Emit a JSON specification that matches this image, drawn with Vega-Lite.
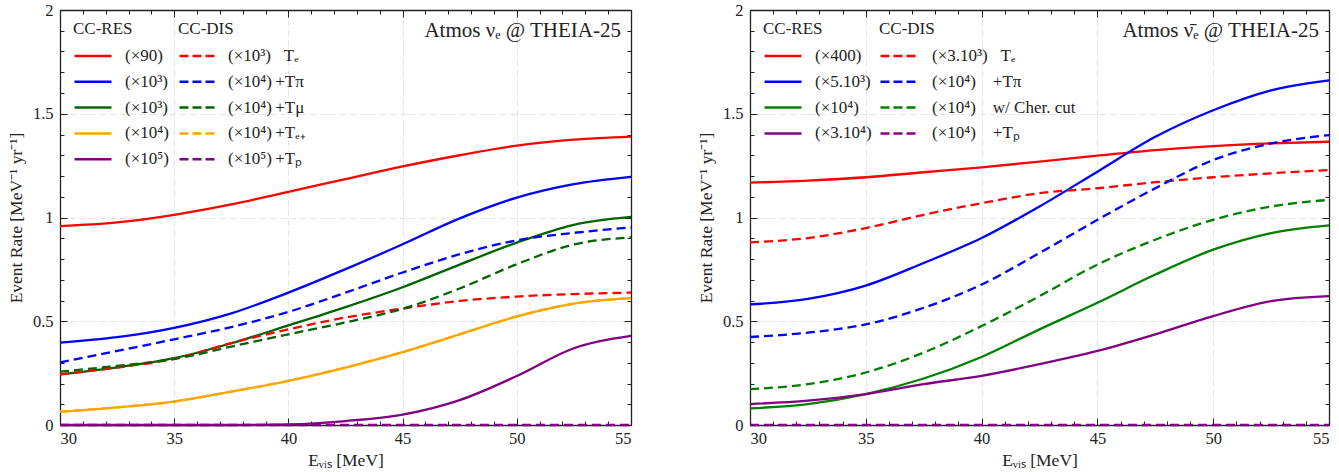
{
  "$schema": "https://vega.github.io/schema/vega-lite/v6.json",
  "padding": {"left": 7, "top": 2, "right": 5, "bottom": 0},
  "config": {
    "font": "Liberation Serif",
    "view": {"stroke": null},
    "axis": {
      "domainColor": "#222222", "domainWidth": 1.3, "tickColor": "#222222", "tickWidth": 1,
      "labelFont": "Liberation Serif", "labelFontSize": 16.5, "labelColor": "#222222",
      "titleFont": "Liberation Serif", "titleFontSize": 17.5, "titleFontWeight": "normal", "titleColor": "#222222",
      "gridColor": "#e0e0e0", "gridDash": [5, 2, 1, 2], "gridWidth": 1
    },
    "legend": {
      "padding": 0, "titleFont": "Liberation Serif", "titleFontSize": 17, "titleFontWeight": "normal", "titleColor": "#222222",
      "labelFont": "Liberation Serif", "labelFontSize": 17, "labelColor": "#222222",
      "symbolType": "M-1,0H2.7", "symbolSize": 400, "symbolStrokeWidth": 2.5,
      "rowPadding": 5.8, "titlePadding": 6.5, "labelLimit": 300
    }
  },
  "datasets": {
    "left": [
      {"x": 30, "r1": 0.958, "r2": 0.397, "r3": 0.244, "r4": 0.064, "r5": 0.0, "d1": 0.244, "d2": 0.302, "d3": 0.257, "d4": 0.064, "d5": 0},
      {"x": 32.5, "r1": 0.976, "r2": 0.423, "r3": 0.278, "r4": 0.085, "r5": 0.0, "d1": 0.277, "d2": 0.357, "d3": 0.285, "d4": 0.085, "d5": 0},
      {"x": 35, "r1": 1.013, "r2": 0.468, "r3": 0.322, "r4": 0.113, "r5": 0.0, "d1": 0.319, "d2": 0.413, "d3": 0.318, "d4": 0.113, "d5": 0},
      {"x": 37.5, "r1": 1.063, "r2": 0.538, "r3": 0.394, "r4": 0.161, "r5": 0.0, "d1": 0.395, "d2": 0.472, "d3": 0.378, "d4": 0.161, "d5": 0},
      {"x": 40, "r1": 1.124, "r2": 0.638, "r3": 0.48, "r4": 0.213, "r5": 0.003, "d1": 0.461, "d2": 0.545, "d3": 0.437, "d4": 0.213, "d5": 0},
      {"x": 42.5, "r1": 1.185, "r2": 0.751, "r3": 0.568, "r4": 0.277, "r5": 0.019, "d1": 0.518, "d2": 0.638, "d3": 0.494, "d4": 0.277, "d5": 0},
      {"x": 45, "r1": 1.246, "r2": 0.871, "r3": 0.664, "r4": 0.351, "r5": 0.05, "d1": 0.561, "d2": 0.735, "d3": 0.56, "d4": 0.351, "d5": 0},
      {"x": 47.5, "r1": 1.3, "r2": 0.996, "r3": 0.773, "r4": 0.437, "r5": 0.12, "d1": 0.598, "d2": 0.823, "d3": 0.658, "d4": 0.437, "d5": 0},
      {"x": 50, "r1": 1.346, "r2": 1.096, "r3": 0.879, "r4": 0.523, "r5": 0.236, "d1": 0.619, "d2": 0.89, "d3": 0.775, "d4": 0.523, "d5": 0},
      {"x": 52.5, "r1": 1.375, "r2": 1.161, "r3": 0.965, "r4": 0.585, "r5": 0.37, "d1": 0.631, "d2": 0.926, "d3": 0.87, "d4": 0.585, "d5": 0},
      {"x": 55, "r1": 1.39, "r2": 1.196, "r3": 1.003, "r4": 0.611, "r5": 0.429, "d1": 0.638, "d2": 0.952, "d3": 0.904, "d4": 0.611, "d5": 0}
    ],
    "right": [
      {"x": 30, "r1": 1.168, "r2": 0.581, "r3": 0.08, "r4": 0.101, "d1": 0.88, "d2": 0.424, "d3": 0.173, "d4": 0},
      {"x": 32.5, "r1": 1.178, "r2": 0.608, "r3": 0.101, "r4": 0.117, "d1": 0.901, "d2": 0.445, "d3": 0.197, "d4": 0},
      {"x": 35, "r1": 1.194, "r2": 0.672, "r3": 0.149, "r4": 0.149, "d1": 0.949, "d2": 0.485, "d3": 0.253, "d4": 0},
      {"x": 37.5, "r1": 1.218, "r2": 0.781, "r3": 0.224, "r4": 0.197, "d1": 1.013, "d2": 0.565, "d3": 0.349, "d4": 0},
      {"x": 40, "r1": 1.242, "r2": 0.901, "r3": 0.328, "r4": 0.237, "d1": 1.069, "d2": 0.677, "d3": 0.477, "d4": 0},
      {"x": 42.5, "r1": 1.269, "r2": 1.053, "r3": 0.461, "r4": 0.293, "d1": 1.117, "d2": 0.829, "d3": 0.621, "d4": 0},
      {"x": 45, "r1": 1.298, "r2": 1.221, "r3": 0.589, "r4": 0.357, "d1": 1.141, "d2": 0.989, "d3": 0.773, "d4": 0},
      {"x": 47.5, "r1": 1.325, "r2": 1.389, "r3": 0.725, "r4": 0.437, "d1": 1.17, "d2": 1.141, "d3": 0.893, "d4": 0},
      {"x": 50, "r1": 1.344, "r2": 1.517, "r3": 0.845, "r4": 0.525, "d1": 1.194, "d2": 1.277, "d3": 0.989, "d4": 0},
      {"x": 52.5, "r1": 1.357, "r2": 1.613, "r3": 0.925, "r4": 0.597, "d1": 1.213, "d2": 1.357, "d3": 1.053, "d4": 0},
      {"x": 55, "r1": 1.365, "r2": 1.661, "r3": 0.962, "r4": 0.621, "d1": 1.229, "d2": 1.397, "d3": 1.085, "d4": 0}
    ]
  },
  "bounds": "flush",
  "spacing": 119,
  "resolve": {"scale": {"color": "independent", "stroke": "independent"}, "legend": {"color": "independent", "stroke": "independent"}},
  "hconcat": [
    {
      "width": 571, "height": 415,
      "data": {"name": "left"},
      "layer": [
        {
          "transform": [{"fold": ["r1", "r2", "r3", "r4", "r5"], "as": ["s", "v"]}],
          "mark": {"type": "line", "interpolate": "monotone", "strokeWidth": 2.3},
          "encoding": {
            "x": {"field": "x", "type": "quantitative", "scale": {"domain": [30, 55], "nice": false, "zero": false},
                  "axis": {"orient": "bottom", "values": [30, 35, 40, 45, 50, 55], "tickSize": -7, "labelPadding": 12, "grid": true, "title": "Eᵥᵢₛ [MeV]", "titlePadding": 5}},
            "y": {"field": "v", "type": "quantitative", "scale": {"domain": [0, 2], "nice": false},
                  "axis": {"orient": "left", "values": [0, 0.5, 1, 1.5, 2], "format": "~g", "tickSize": -7, "labelPadding": 14, "grid": true, "title": "Event Rate [MeV⁻¹ yr⁻¹]", "titlePadding": 7}},
            "stroke": {"field": "s", "type": "nominal",
                       "scale": {"domain": ["r1", "r2", "r3", "r4", "r5"], "range": ["#ff0000", "#0000ff", "#006400", "#ffa500", "#800080"]},
                       "legend": {"orient": "none", "legendX": 13, "legendY": 11, "title": "CC-RES", "labelOffset": 29,
                                  "labelExpr": "datum.value == 'r1' ? '(×90)' : datum.value == 'r2' ? '(×10³)' : datum.value == 'r3' ? '(×10³)' : datum.value == 'r4' ? '(×10⁴)' : '(×10⁵)'"}}
          }
        },
        {
          "transform": [{"fold": ["d1", "d2", "d3", "d4", "d5"], "as": ["s", "v"]}],
          "mark": {"type": "line", "interpolate": "monotone", "strokeWidth": 2.3, "strokeDash": [9, 5]},
          "encoding": {
            "x": {"field": "x", "type": "quantitative", "axis": {"orient": "top", "values": [30, 35, 40, 45, 50, 55], "tickSize": -7, "labels": false, "grid": false, "title": null}},
            "y": {"field": "v", "type": "quantitative", "axis": {"orient": "right", "values": [0, 0.5, 1, 1.5, 2], "tickSize": -7, "labels": false, "grid": false, "title": null}},
            "color": {"field": "s", "type": "nominal",
                      "scale": {"domain": ["d1", "d2", "d3", "d4", "d5"], "range": ["#ff0000", "#0000ff", "#006400", "#ffa500", "#800080"]},
                      "legend": {"orient": "none", "legendX": 118, "legendY": 11, "title": "CC-DIS", "labelOffset": 27, "symbolDash": [9, 4],
                                 "labelExpr": "datum.value == 'd1' ? '(×10³)\u00a0\u00a0\u00a0Tₑ' : datum.value == 'd2' ? '(×10⁴)\u2009+Tπ' : datum.value == 'd3' ? '(×10⁴)\u2009+Tμ' : datum.value == 'd4' ? '(×10⁴)\u2009+Tₑ₊' : '(×10⁵)\u2009+Tₚ'"}}
          }
        },
        {
          "transform": [{"fold": ["r1"], "as": ["s", "v"]}],
          "mark": {"type": "line", "opacity": 0},
          "encoding": {
            "x": {"field": "x", "type": "quantitative", "axis": {"orient": "bottom", "values": [31, 32, 33, 34, 36, 37, 38, 39, 41, 42, 43, 44, 46, 47, 48, 49, 51, 52, 53, 54], "tickSize": -4, "labels": false, "domain": false, "grid": false, "title": null}},
            "y": {"field": "v", "type": "quantitative", "axis": {"orient": "left", "values": [0.1, 0.2, 0.3, 0.4, 0.6, 0.7, 0.8, 0.9, 1.1, 1.2, 1.3, 1.4, 1.6, 1.7, 1.8, 1.9], "tickSize": -4, "labels": false, "domain": false, "grid": false, "title": null}}
          }
        },
        {
          "transform": [{"fold": ["r1"], "as": ["s", "v"]}],
          "mark": {"type": "line", "opacity": 0},
          "encoding": {
            "x": {"field": "x", "type": "quantitative", "axis": {"orient": "top", "values": [31, 32, 33, 34, 36, 37, 38, 39, 41, 42, 43, 44, 46, 47, 48, 49, 51, 52, 53, 54], "tickSize": -4, "labels": false, "domain": false, "grid": false, "title": null}},
            "y": {"field": "v", "type": "quantitative", "axis": {"orient": "right", "values": [0.1, 0.2, 0.3, 0.4, 0.6, 0.7, 0.8, 0.9, 1.1, 1.2, 1.3, 1.4, 1.6, 1.7, 1.8, 1.9], "tickSize": -4, "labels": false, "domain": false, "grid": false, "title": null}}
          }
        },
        {
          "data": {"values": [{}]},
          "mark": {"type": "text", "align": "right", "baseline": "alphabetic", "dx": -10, "dy": 27, "fontSize": 21, "font": "Liberation Serif", "color": "#222222", "text": "Atmos νₑ @ THEIA-25"},
          "encoding": {
            "x": {"datum": 55, "type": "quantitative", "axis": null},
            "y": {"datum": 2, "type": "quantitative", "axis": null}
          }
        }
      ],
      "resolve": {"axis": {"x": "independent", "y": "independent"}}
    },
    {
      "width": 579, "height": 415,
      "data": {"name": "right"},
      "layer": [
        {
          "transform": [{"fold": ["r1", "r2", "r3", "r4"], "as": ["s", "v"]}],
          "mark": {"type": "line", "interpolate": "monotone", "strokeWidth": 2.3},
          "encoding": {
            "x": {"field": "x", "type": "quantitative", "scale": {"domain": [30, 55], "nice": false, "zero": false},
                  "axis": {"orient": "bottom", "values": [30, 35, 40, 45, 50, 55], "tickSize": -7, "labelPadding": 12, "grid": true, "title": "Eᵥᵢₛ [MeV]", "titlePadding": 5}},
            "y": {"field": "v", "type": "quantitative", "scale": {"domain": [0, 2], "nice": false},
                  "axis": {"orient": "left", "values": [0, 0.5, 1, 1.5, 2], "format": "~g", "tickSize": -7, "labelPadding": 14, "grid": true, "title": "Event Rate [MeV⁻¹ yr⁻¹]", "titlePadding": 7}},
            "stroke": {"field": "s", "type": "nominal",
                       "scale": {"domain": ["r1", "r2", "r3", "r4"], "range": ["#ff0000", "#0000ff", "#008000", "#800080"]},
                       "legend": {"orient": "none", "legendX": 13, "legendY": 11, "title": "CC-RES", "labelOffset": 29,
                                  "labelExpr": "datum.value == 'r1' ? '(×400)' : datum.value == 'r2' ? '(×5.10³)' : datum.value == 'r3' ? '(×10⁴)' : '(×3.10⁴)'"}}
          }
        },
        {
          "transform": [{"fold": ["d1", "d2", "d3", "d4"], "as": ["s", "v"]}],
          "mark": {"type": "line", "interpolate": "monotone", "strokeWidth": 2.3, "strokeDash": [9, 5]},
          "encoding": {
            "x": {"field": "x", "type": "quantitative", "axis": {"orient": "top", "values": [30, 35, 40, 45, 50, 55], "tickSize": -7, "labels": false, "grid": false, "title": null}},
            "y": {"field": "v", "type": "quantitative", "axis": {"orient": "right", "values": [0, 0.5, 1, 1.5, 2], "tickSize": -7, "labels": false, "grid": false, "title": null}},
            "color": {"field": "s", "type": "nominal",
                      "scale": {"domain": ["d1", "d2", "d3", "d4"], "range": ["#ff0000", "#0000ff", "#008000", "#800080"]},
                      "legend": {"orient": "none", "legendX": 129, "legendY": 11, "title": "CC-DIS", "labelOffset": 30, "symbolDash": [9, 4],
                                 "labelExpr": "datum.value == 'd1' ? '(×3.10³)\u00a0\u00a0\u00a0Tₑ' : datum.value == 'd2' ? '(×10⁴)\u00a0\u00a0\u00a0\u00a0+Tπ' : datum.value == 'd3' ? '(×10⁴)\u00a0\u00a0\u00a0\u00a0w/ Cher. cut' : '(×10⁴)\u00a0\u00a0\u00a0\u00a0+Tₚ'"}}
          }
        },
        {
          "transform": [{"fold": ["r1"], "as": ["s", "v"]}],
          "mark": {"type": "line", "opacity": 0},
          "encoding": {
            "x": {"field": "x", "type": "quantitative", "axis": {"orient": "bottom", "values": [31, 32, 33, 34, 36, 37, 38, 39, 41, 42, 43, 44, 46, 47, 48, 49, 51, 52, 53, 54], "tickSize": -4, "labels": false, "domain": false, "grid": false, "title": null}},
            "y": {"field": "v", "type": "quantitative", "axis": {"orient": "left", "values": [0.1, 0.2, 0.3, 0.4, 0.6, 0.7, 0.8, 0.9, 1.1, 1.2, 1.3, 1.4, 1.6, 1.7, 1.8, 1.9], "tickSize": -4, "labels": false, "domain": false, "grid": false, "title": null}}
          }
        },
        {
          "transform": [{"fold": ["r1"], "as": ["s", "v"]}],
          "mark": {"type": "line", "opacity": 0},
          "encoding": {
            "x": {"field": "x", "type": "quantitative", "axis": {"orient": "top", "values": [31, 32, 33, 34, 36, 37, 38, 39, 41, 42, 43, 44, 46, 47, 48, 49, 51, 52, 53, 54], "tickSize": -4, "labels": false, "domain": false, "grid": false, "title": null}},
            "y": {"field": "v", "type": "quantitative", "axis": {"orient": "right", "values": [0.1, 0.2, 0.3, 0.4, 0.6, 0.7, 0.8, 0.9, 1.1, 1.2, 1.3, 1.4, 1.6, 1.7, 1.8, 1.9], "tickSize": -4, "labels": false, "domain": false, "grid": false, "title": null}}
          }
        },
        {
          "data": {"values": [{}]},
          "mark": {"type": "text", "align": "right", "baseline": "alphabetic", "dx": -10, "dy": 27, "fontSize": 21, "font": "Liberation Serif", "color": "#222222", "text": "Atmos ν̄ₑ @ THEIA-25"},
          "encoding": {
            "x": {"datum": 55, "type": "quantitative", "axis": null},
            "y": {"datum": 2, "type": "quantitative", "axis": null}
          }
        }
      ],
      "resolve": {"axis": {"x": "independent", "y": "independent"}}
    }
  ]
}
